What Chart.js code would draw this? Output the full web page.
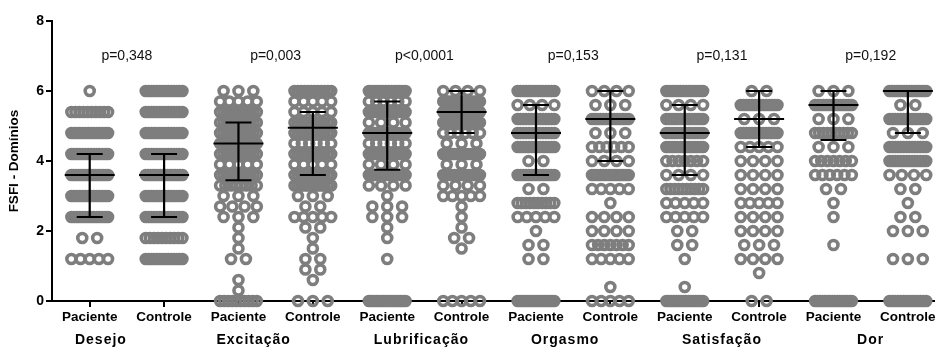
<!DOCTYPE html>
<html>
<head>
<meta charset="utf-8">
<script src="https://cdn.jsdelivr.net/npm/chart.js@4.4.1/dist/chart.umd.min.js"></script>
<style>
  html, body { margin: 0; padding: 0; background: #fff; }
</style>
</head>
<body>
<canvas id="chart" width="942" height="350"></canvas>
<script>
// categories
const groupLabels = ["Desejo", "Excitação", "Lubrificação", "Orgasmo", "Satisfação", "Dor"];
const tickLabels = ["Paciente", "Controle", "Paciente", "Controle", "Paciente", "Controle",
                    "Paciente", "Controle", "Paciente", "Controle", "Paciente", "Controle"];
const pValues = ["p=0,348", "p=0,003", "p<0,0001", "p=0,153", "p=0,131", "p=0,192"];
const yTicks = [0, 2, 4, 6, 8];

// centre line and whiskers
const centerVals = [3.6, 3.6, 4.5, 4.95, 4.8, 5.4, 4.8, 5.2, 4.8, 5.2, 5.6, 6.0];
const upperVals  = [4.2, 4.2, 5.1, 5.4, 5.7, 6.0, 5.6, 6.0, 5.6, 6.0, 6.0, 6.0];
const lowerVals  = [2.4, 2.4, 3.45, 3.6, 3.75, 4.8, 3.6, 4.0, 3.6, 4.4, 4.6, 4.8];

// score, how many subjects (estimated from the dot piles)
const desejoPaciente = [[6.0,1],[5.4,10],[4.8,14],[4.2,14],[3.6,16],[3.0,14],[2.4,14],[1.8,2],[1.2,5]];
const desejoControle = [[6.0,14],[5.4,14],[4.8,14],[4.2,14],[3.6,16],[3.0,14],[2.4,14],[1.8,10],[1.2,14]];
const excitacaoPaciente = [[6.0,3],[5.7,5],[5.4,12],[5.1,12],[4.8,12],[4.5,12],[4.2,12],[3.9,5],[3.6,12],[3.3,8],
                           [3.0,3],[2.7,4],[2.4,3],[2.1,1],[1.8,1],[1.5,1],[1.2,2],[0.6,1],[0.3,1],[0,10]];
const excitacaoControle = [[6.0,12],[5.7,5],[5.4,5],[5.1,12],[4.8,12],[4.5,6],[4.2,12],[3.9,5],[3.6,12],[3.3,12],
                           [3.0,3],[2.7,2],[2.4,5],[2.1,2],[1.8,1],[1.5,1],[1.2,2],[0.9,2],[0.6,1],[0,3]];
const lubrificacaoPaciente = [[6.0,14],[5.7,6],[5.4,14],[5.1,4],[4.8,14],[4.5,6],[4.2,14],[3.9,4],[3.6,14],[3.3,4],
                              [3.0,1],[2.7,3],[2.4,3],[2.1,1],[1.8,1],[1.2,1],[0,16]];
const lubrificacaoControle = [[6.0,4],[5.7,14],[5.4,14],[5.1,14],[4.8,6],[4.5,3],[4.2,14],[3.9,3],[3.6,14],[3.3,4],
                              [3.0,5],[2.7,1],[2.4,1],[2.1,1],[1.8,2],[1.5,1],[0,5]];
const orgasmoPaciente = [[6.0,14],[5.6,4],[5.2,14],[4.8,14],[4.4,14],[4.0,2],[3.6,14],[3.2,2],[2.8,10],[2.4,5],
                         [2.0,1],[1.6,2],[1.2,2],[0,16]];
const orgasmoControle = [[6.0,4],[5.6,3],[5.2,14],[4.8,3],[4.4,6],[4.0,4],[3.6,14],[3.2,5],[2.8,1],[2.4,4],
                         [2.0,4],[1.6,7],[1.2,5],[0.4,1],[0,5]];
const satisfacaoPaciente = [[6.0,14],[5.6,4],[5.2,14],[4.8,14],[4.4,14],[4.0,7],[3.6,4],[3.2,10],[2.8,5],[2.4,5],
                            [2.0,2],[1.6,2],[1.2,1],[0.4,1],[0,16]];
const satisfacaoControle = [[6.0,2],[5.6,14],[5.2,3],[4.8,14],[4.4,5],[4.0,4],[3.6,4],[3.2,4],[2.8,5],[2.4,4],
                            [2.0,4],[1.6,3],[1.2,4],[0.8,1],[0,2]];
const dorPaciente = [[6.0,3],[5.6,14],[5.2,3],[4.8,10],[4.4,3],[4.0,7],[3.6,6],[3.2,2],[2.8,1],[2.4,1],[1.6,1],[0,16]];
const dorControle = [[6.0,16],[5.6,2],[5.2,14],[4.8,3],[4.4,14],[4.0,14],[3.6,4],[3.2,2],[2.8,1],[2.4,2],[2.0,3],[1.2,3],[0,14]];

const seriesRows = [desejoPaciente, desejoControle, excitacaoPaciente, excitacaoControle,
                    lubrificacaoPaciente, lubrificacaoControle, orgasmoPaciente, orgasmoControle,
                    satisfacaoPaciente, satisfacaoControle, dorPaciente, dorControle];

const DOT_GRAY = "rgb(126,126,126)";
const PX_PER_UNIT = 75;   // approx width of one column
const DOT_STEP = 15;      // spacing of dots side by side (px)
const DOT_HALF = 18.5;    // widest spread from the column centre (px)
const labelFont = "'Liberation Sans', Arial, sans-serif";

// spread equal scores sideways, squeezing wide rows like the original
function spread(rows, index) {
  const pts = [];
  rows.forEach(([v, n]) => {
    const step = n > 1 ? Math.min(DOT_STEP, 2 * DOT_HALF / (n - 1)) : 0;
    for (let k = 0; k < n; k++) {
      const off = (k - (n - 1) / 2) * step;
      pts.push({ x: index + off / PX_PER_UNIT, y: v });
    }
  });
  return pts;
}

const datasets = seriesRows.map((rows, i) => ({
  label: tickLabels[i],
  data: spread(rows, i),
  pointStyle: "circle",
  pointRadius: 4.5,
  pointBorderWidth: 3.6,
  pointBorderColor: DOT_GRAY,
  pointBackgroundColor: "rgba(0,0,0,0)",
  pointHoverRadius: 4.5,
  clip: false
}));

const extras = {
  id: "extras",
  afterDatasetsDraw(chart) {
    const { ctx, scales: { x, y } } = chart;
    ctx.save();
    ctx.strokeStyle = "#000";
    ctx.lineWidth = 2.2;
    centerVals.forEach((c, i) => {
      const cx = x.getPixelForValue(i);
      const yc = y.getPixelForValue(c), yu = y.getPixelForValue(upperVals[i]), yl = y.getPixelForValue(lowerVals[i]);
      ctx.beginPath();
      ctx.moveTo(cx - 25, yc); ctx.lineTo(cx + 25, yc);
      ctx.moveTo(cx, yu); ctx.lineTo(cx, yl);
      ctx.moveTo(cx - 13, yu); ctx.lineTo(cx + 13, yu);
      ctx.moveTo(cx - 13, yl); ctx.lineTo(cx + 13, yl);
      ctx.stroke();
    });
    ctx.restore();
  },
  afterDraw(chart) {
    const { ctx, chartArea, scales: { x, y } } = chart;
    const shift = [-26, -22, -3, -8, 0, 0];
    ctx.save();
    ctx.fillStyle = "#111";
    ctx.textAlign = "center";
    ctx.textBaseline = "middle";
    ctx.font = "14px " + labelFont;
    pValues.forEach((p, g) => {
      const mx = (x.getPixelForValue(2 * g) + x.getPixelForValue(2 * g + 1)) / 2;
      ctx.fillText(p, mx, y.getPixelForValue(7));
    });
    ctx.fillStyle = "#000";
    ctx.font = "bold 14px " + labelFont;
    ctx.letterSpacing = "1px";
    groupLabels.forEach((t, g) => {
      const mx = (x.getPixelForValue(2 * g) + x.getPixelForValue(2 * g + 1)) / 2;
      ctx.fillText(t, mx + shift[g], chartArea.bottom + 39);
    });
    ctx.restore();
  }
};

new Chart(document.getElementById("chart"), {
  type: "scatter",
  data: { datasets },
  plugins: [extras],
  options: {
    responsive: false,
    animation: false,
    events: [],
    layout: { padding: { top: 21, right: 1, bottom: 0, left: 0 } },
    plugins: { legend: { display: false }, tooltip: { enabled: false } },
    scales: {
      x: {
        type: "linear",
        min: -0.507,
        max: 11.35,
        afterBuildTicks: s => { s.ticks = tickLabels.map((_, i) => ({ value: i })); },
        afterFit: s => { s.height = 49; s.paddingLeft = 0; s.paddingRight = 0; },
        ticks: {
          autoSkip: false, maxRotation: 0, padding: 2, color: "#000",
          font: { family: labelFont, size: 13.5, weight: "bold" },
          callback: v => tickLabels[Math.round(v)]
        },
        grid: { drawOnChartArea: false, tickLength: 6, color: "#000", lineWidth: 2 },
        border: { color: "#000", width: 2 }
      },
      y: {
        min: 0,
        max: 8,
        afterBuildTicks: s => { s.ticks = yTicks.map(v => ({ value: v })); },
        afterFit: s => { s.width = 52; s.paddingTop = 0; s.paddingBottom = 0; },
        ticks: { padding: 2, color: "#000", font: { family: labelFont, size: 14, weight: "bold" } },
        grid: { drawOnChartArea: false, tickLength: 6, color: "#000", lineWidth: 2 },
        border: { color: "#000", width: 2 },
        title: {
          display: true, text: "FSFI - Domínios", color: "#000", padding: { top: 6, bottom: 0 },
          font: { family: labelFont, size: 13.5, weight: "bold" }
        }
      }
    }
  }
});
</script>
</body>
</html>
